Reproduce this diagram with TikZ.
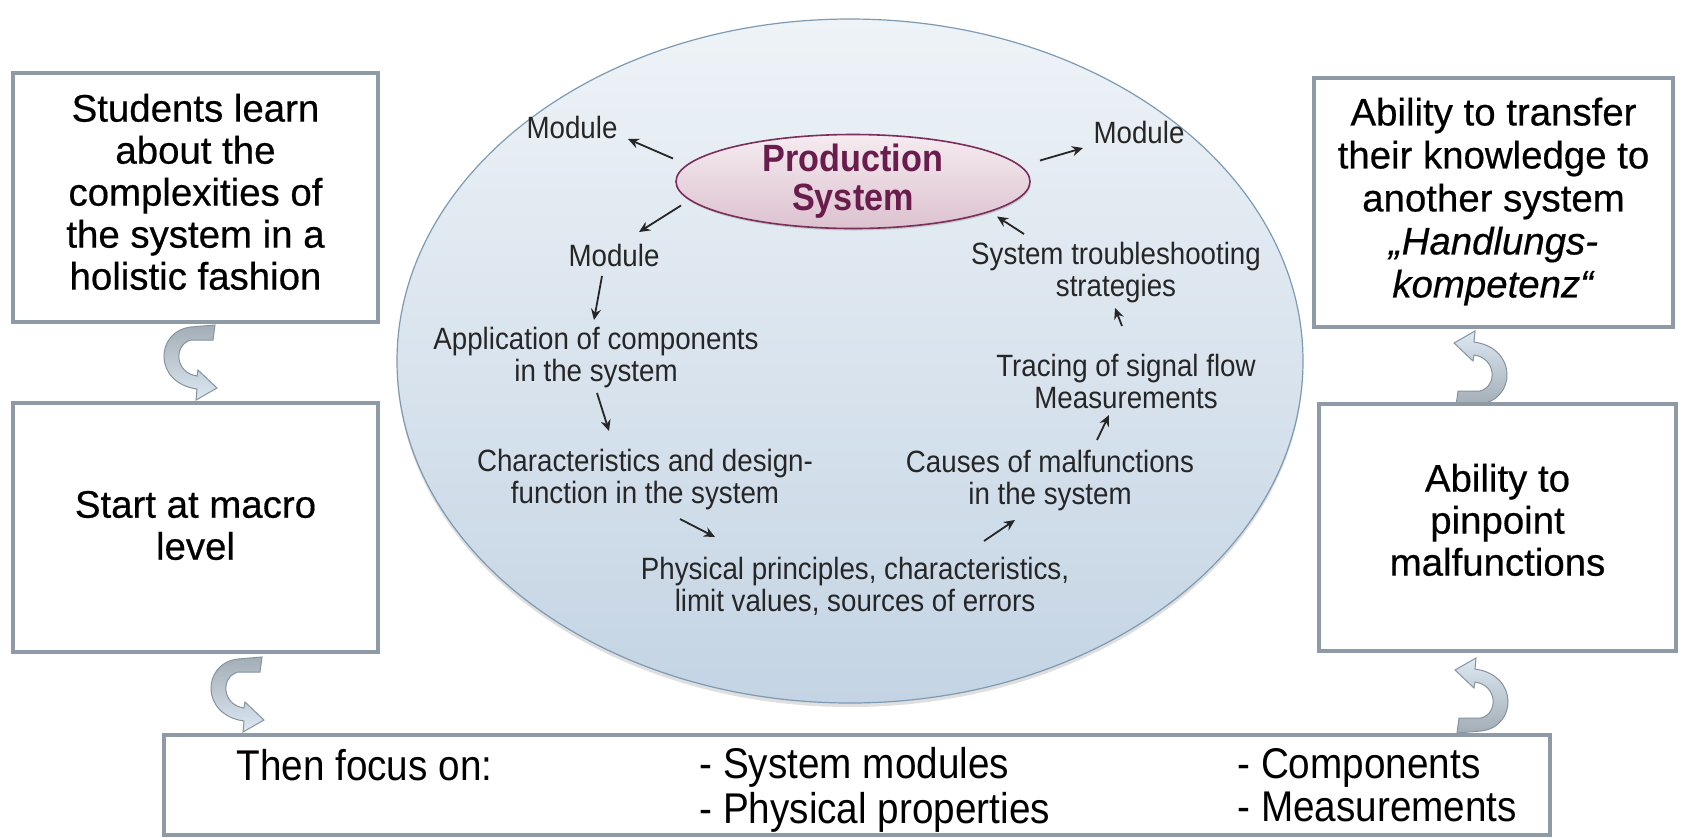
\documentclass[tikz,border=0pt]{standalone}
\usepackage{fontspec}
\setmainfont{Liberation Sans}
\newfontfamily\narrowfont[FakeStretch=0.9]{Liberation Sans}
\newfontfamily\heavyfont[RawFeature={embolden=0.5}]{Liberation Sans}
\usetikzlibrary{shapes.geometric,arrows.meta,shadows}
\definecolor{boxgray}{HTML}{8E9AA5}
\definecolor{elltop}{HTML}{EEF3F7}
\definecolor{ellbot}{HTML}{C4D4E4}
\definecolor{elledge}{HTML}{7D9AB3}
\definecolor{pstop}{HTML}{F5EBF0}
\definecolor{psbot}{HTML}{DCC2CF}
\definecolor{psedge}{HTML}{7B2D5C}
\definecolor{pstextc}{HTML}{6A1C4C}
\definecolor{innertext}{HTML}{262626}
\definecolor{curlgray}{HTML}{A3ADB6}
\definecolor{curllight}{HTML}{DCE8F2}
\definecolor{curledge}{HTML}{8593A0}
\tikzset{
  box/.style={draw=boxgray, line width=2pt, fill=white, inner sep=0pt},
  boxtext/.style={align=center, inner sep=0pt, font=\heavyfont\fontsize{19.2}{21}\selectfont},
  bigell/.style={ellipse, draw=elledge, line width=0.6pt, top color=elltop, bottom color=ellbot,
    minimum width=453pt, minimum height=342pt, inner sep=0pt,
    drop shadow={shadow xshift=0pt, shadow yshift=-2pt, opacity=0.25}},
  psell/.style={ellipse, draw=psedge, line width=0.8pt, top color=pstop, bottom color=psbot,
    minimum width=177pt, minimum height=47pt, inner sep=0pt,
    drop shadow={shadow xshift=0.5pt, shadow yshift=-1pt, opacity=0.3}},
  pstext/.style={align=center, text=pstextc, inner sep=0pt,
    font=\narrowfont\bfseries\fontsize{19}{19.5}\selectfont},
  inner/.style={align=center, text=innertext, inner sep=1pt,
    font=\narrowfont\fontsize{15.4}{16}\selectfont},
  btext/.style={text=black, inner sep=0pt, align=left, font=\narrowfont\fontsize{21.5}{20}\selectfont},
  arr/.style={-{Stealth[length=5.5pt,width=5pt]}, line width=0.9pt, draw=black!85},
  curlL/.style={draw=curledge, line width=0.5pt, top color=curlgray, bottom color=curllight},
  curlR/.style={draw=curledge, line width=0.5pt, top color=curllight, bottom color=curlgray},
  curldown/.pic={
    \path[curlL] (54,0) -- (30,2) .. controls (-6,6) and (-8,58) .. (36,64) -- (35,75)
      -- (56,63) -- (37,45) -- (36,51) .. controls (14,48) and (12,20) .. (30,15)
      -- (52,15) -- cycle;
  },
  curlup/.pic={
    \path[curlR] (-54,0) -- (-30,-2) .. controls (6,-6) and (8,-58) .. (-36,-64) -- (-35,-75)
      -- (-56,-63) -- (-37,-45) -- (-36,-51) .. controls (-14,-48) and (-12,-20) .. (-30,-15)
      -- (-52,-15) -- cycle;
  }
}
\begin{document}
\begin{tikzpicture}[x=0.5pt,y=-0.5pt]
\useasboundingbox[fill=white] (0,0) rectangle (1682,837);

% curved block arrows (drawn first, boxes cover their ends)
\pic at (161,325) {curldown};
\pic at (208,657) {curldown};
\pic at (1510,406) {curlup};
\pic at (1511,733) {curlup};

% side boxes
\node[box, minimum width=182.5pt, minimum height=124.5pt] (lb1) at (195.5,197.5) {};
\node[boxtext] (lb1t) at ([yshift=2.8pt]lb1.center)
  {Students learn\\about the\\complexities of\\the system in a\\holistic fashion};
\node[box, minimum width=182.5pt, minimum height=124.5pt] (lb2) at (195.5,527.5) {};
\node[boxtext] (lb2t) at ([yshift=1pt]lb2.center) {Start at macro\\level};
\node[box, minimum width=179.5pt, minimum height=124.5pt] (rb1) at (1493.5,202.5) {};
\node[boxtext, font=\heavyfont\fontsize{19.2}{21.5}\selectfont] (rb1t) at ([yshift=0.5pt]rb1.center)
  {Ability to transfer\\their knowledge to\\another system\\\textit{„Handlungs-}\\\textit{kompetenz“}};
\node[box, minimum width=178.5pt, minimum height=123.5pt] (rb2) at (1497.5,527.5) {};
\node[boxtext] (rb2t) at ([yshift=3.8pt]rb2.center) {Ability to\\pinpoint\\malfunctions};

% bottom box
\node[box, minimum width=693pt, minimum height=50pt] (bot) at (857,785) {};
\node[btext, anchor=west] (focus) at (236,771) {Then focus on:\strut};
\node[btext, anchor=west] (list1) at (699,791) {- System modules\strut\\- Physical properties\strut};
\node[btext, anchor=west] (list2) at (1237,791) {- Components\strut\\- Measurements\strut};

% central system ellipse
\node[bigell] (sys) at (850,361) {};
\node[psell] (ps) at (853,181.5) {};
\node[pstext] (pst) at (ps) {Production\\System};

\node[inner] (m1) at (572,127) {Module};
\node[inner] (m2) at (1139,132) {Module};
\node[inner] (m3) at (614,255) {Module};
\node[inner] (app) at (596,358) {Application of components\\in the system};
\node[inner] (char) at (645,479.5) {Characteristics and design-\\function in the system};
\node[inner] (phys) at (855,586) {Physical principles, characteristics,\\limit values, sources of errors};
\node[inner] (cause) at (1050,480.5) {Causes of malfunctions\\in the system};
\node[inner] (trace) at (1126,381) {Tracing of signal flow\\Measurements};
\node[inner] (trouble) at (1116,273) {System troubleshooting\\strategies};

\draw[arr] ([shift={(-180,-23)}]ps.center) -- ([shift={(56,12)}]m1.center);
\draw[arr] ([shift={(187,-21)}]ps.center) -- ([shift={(-56,16)}]m2.center);
\draw[arr] ([shift={(-172,24)}]ps.center) -- ([shift={(25,-23)}]m3.center);
\draw[arr] ([shift={(-12,21)}]m3.center) -- ([shift={(-2,-38)}]app.center);
\draw[arr] ([shift={(1,35)}]app.center) -- ([shift={(-36,-48.5)}]char.center);
\draw[arr] ([shift={(35,39.5)}]char.center) -- ([shift={(-140,-49)}]phys.center);
\draw[arr] ([shift={(129,-45)}]phys.center) -- ([shift={(-35,39.5)}]cause.center);
\draw[arr] ([shift={(47,-40.5)}]cause.center) -- ([shift={(-17,34)}]trace.center);
\draw[arr] ([shift={(-4,-55)}]trace.center) -- ([shift={(-1,35)}]trouble.center);
\draw[arr] ([shift={(-92,-39)}]trouble.center) -- ([shift={(144,35)}]ps.center);
\end{tikzpicture}
\end{document}
